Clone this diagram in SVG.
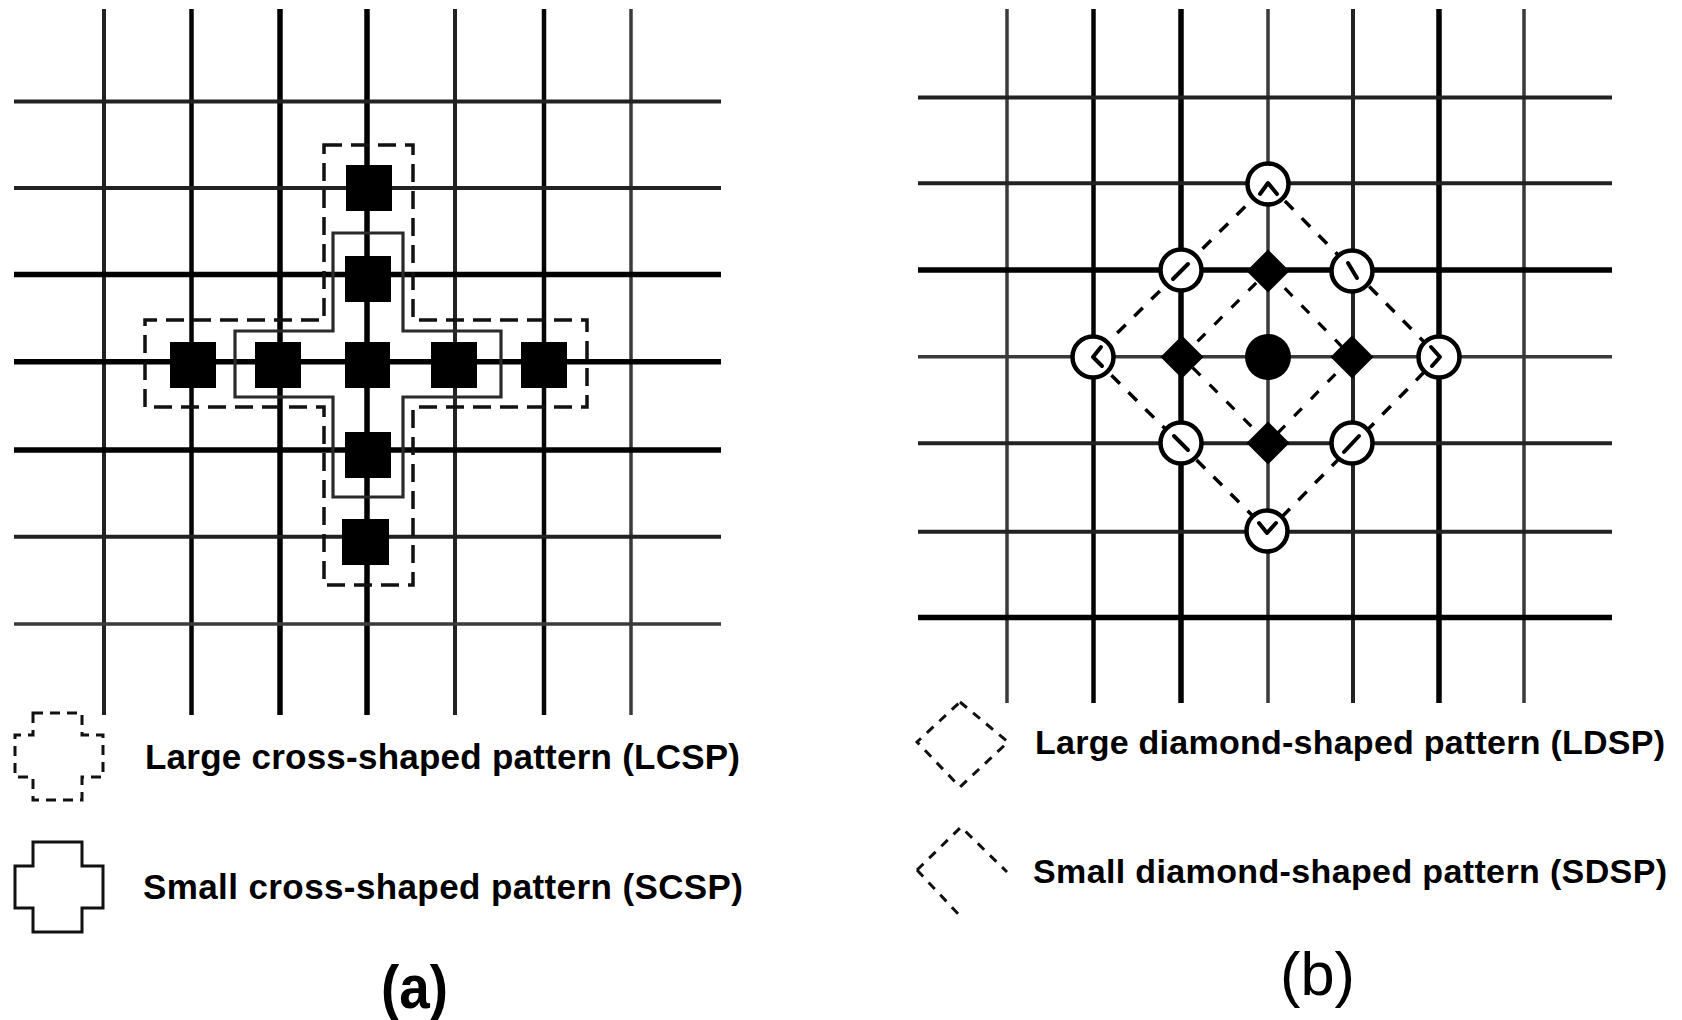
<svg xmlns="http://www.w3.org/2000/svg" width="1682" height="1020" viewBox="0 0 1682 1020">
  <style>
    .bg { fill: #ffffff; }
    .gl { fill: none; stroke-linecap: butt; }
    .w6 { stroke: #000; stroke-width: 5.5; }
    .w5 { stroke: #050505; stroke-width: 4.5; }
    .w4 { stroke: #222; stroke-width: 4; }
    .w3 { stroke: #3a3a3a; stroke-width: 3.5; }
    .sq { fill: #000; }
    .lcsp { fill: none; stroke: #111; stroke-width: 3.5; stroke-dasharray: 18 9; }
    .scsp { fill: none; stroke: #2a2a2a; stroke-width: 3.2; }
    .ldsp { fill: none; stroke: #000; stroke-width: 3.5; stroke-dasharray: 12 12; }
    .sdsp { fill: none; stroke: #000; stroke-width: 3.2; stroke-dasharray: 11 13; }
    .ring { fill: #fff; stroke: #000; stroke-width: 4.5; }
    .mark { fill: none; stroke: #000; stroke-width: 4; stroke-linecap: round; stroke-linejoin: round; }
    .dot { fill: #000; }
    .ico-dash { fill: none; stroke: #111; stroke-width: 3; stroke-dasharray: 10 7; }
    .ico-solid { fill: none; stroke: #111; stroke-width: 3; }
    .ico-dia { fill: none; stroke: #111; stroke-width: 3; stroke-dasharray: 9 8; }
    .lbl { font-family: "Liberation Sans", Arial, sans-serif; fill: #000; }
    .bold { font-weight: bold; }
  </style>

  <rect class="bg" x="0" y="0" width="1682" height="1020"/>

  <!-- ===== Panel (a): cross-shaped search patterns ===== -->
  <g id="grid-a" class="gl">
    <line class="w4" x1="104" y1="9" x2="104" y2="715"/>
    <line class="w5" x1="191.5" y1="9" x2="191.5" y2="715"/>
    <line class="w6" x1="280" y1="9" x2="280" y2="715"/>
    <line class="w6" x1="367" y1="9" x2="367" y2="715"/>
    <line class="w4" x1="455" y1="9" x2="455" y2="715"/>
    <line class="w5" x1="544" y1="9" x2="544" y2="715"/>
    <line class="w3" x1="631" y1="9" x2="631" y2="715"/>

    <line class="w4" x1="14" y1="101.5" x2="721" y2="101.5"/>
    <line class="w4" x1="14" y1="188" x2="721" y2="188"/>
    <line class="w6" x1="14" y1="274.5" x2="721" y2="274.5"/>
    <line class="w6" x1="14" y1="361.7" x2="721" y2="361.7"/>
    <line class="w6" x1="14" y1="450" x2="721" y2="450"/>
    <line class="w4" x1="14" y1="536.7" x2="721" y2="536.7"/>
    <line class="w3" x1="14" y1="624" x2="721" y2="624"/>
  </g>

  <g id="connectors-a">
    <path id="lcsp-outline" class="lcsp" d="M324,145 H413 V320 H587 V407 H413 V585 H324 V407 H145 V320 H324 Z"/>
    <path id="scsp-outline" class="scsp" d="M333,233 H403 V331 H501 V397 H403 V497 H333 V397 H235 V331 H333 Z"/>
  </g>

  <g id="points-a">
    <g id="pa-n2"><rect class="sq" x="346" y="165" width="46" height="46"/></g>
    <g id="pa-n1"><rect class="sq" x="345" y="256" width="46" height="46"/></g>
    <g id="pa-w2"><rect class="sq" x="170" y="342" width="46" height="46"/></g>
    <g id="pa-w1"><rect class="sq" x="255" y="342" width="46" height="46"/></g>
    <g id="pa-c"><rect class="sq" x="345" y="342" width="45" height="46"/></g>
    <g id="pa-e1"><rect class="sq" x="431" y="342" width="46" height="46"/></g>
    <g id="pa-e2"><rect class="sq" x="521" y="342" width="46" height="46"/></g>
    <g id="pa-s1"><rect class="sq" x="345" y="432" width="46" height="46"/></g>
    <g id="pa-s2"><rect class="sq" x="342" y="519" width="47" height="46"/></g>
  </g>

  <g id="legend-a">
    <g id="legend-lcsp">
      <path class="ico-dash" d="M33,713 H82 V735 H103 V777 H82 V800 H33 V777 H15 V735 H33 Z"/>
      <text class="lbl bold" x="145" y="769" font-size="35" textLength="595" lengthAdjust="spacing">Large cross-shaped pattern (LCSP)</text>
    </g>
    <g id="legend-scsp">
      <path class="ico-solid" d="M33,842 H82 V866 H103 V908 H82 V932 H33 V908 H15 V866 H33 Z"/>
      <text class="lbl bold" x="143" y="899" font-size="35" textLength="600" lengthAdjust="spacing">Small cross-shaped pattern (SCSP)</text>
    </g>
    <text id="caption-a" class="lbl bold" x="381" y="1008" font-size="62" textLength="67" lengthAdjust="spacingAndGlyphs">(a)</text>
  </g>

  <!-- ===== Panel (b): diamond-shaped search patterns ===== -->
  <g id="grid-b" class="gl">
    <line class="w3" x1="1007" y1="9" x2="1007" y2="703"/>
    <line class="w5" x1="1093.5" y1="9" x2="1093.5" y2="703"/>
    <line class="w6" x1="1181" y1="9" x2="1181" y2="703"/>
    <line class="w3" x1="1268" y1="9" x2="1268" y2="703"/>
    <line class="w4" x1="1353" y1="9" x2="1353" y2="703"/>
    <line class="w6" x1="1439" y1="9" x2="1439" y2="703"/>
    <line class="w3" x1="1524" y1="9" x2="1524" y2="703"/>

    <line class="w4" x1="918" y1="97.4" x2="1612" y2="97.4"/>
    <line class="w4" x1="918" y1="183.3" x2="1612" y2="183.3"/>
    <line class="w6" x1="918" y1="270" x2="1612" y2="270"/>
    <line class="w3" x1="918" y1="356.7" x2="1612" y2="356.7"/>
    <line class="w4" x1="918" y1="443.3" x2="1612" y2="443.3"/>
    <line class="w4" x1="918" y1="531.7" x2="1612" y2="531.7"/>
    <line class="w6" x1="918" y1="617.6" x2="1612" y2="617.6"/>
  </g>

  <g id="connectors-b">
    <path id="ldsp-outline" class="ldsp" d="M1268,184 L1439,357 L1268,531 L1093,357 Z"/>
    <path id="sdsp-outline" class="sdsp" d="M1268,271 L1352,357 L1268,443 L1182,357 Z"/>
  </g>

  <g id="points-b">
    <g id="pb-n2">
      <circle class="ring" cx="1268" cy="184" r="20.5"/>
      <path class="mark" d="M1260,194 L1268,183 L1277,194"/>
    </g>
    <g id="pb-nw">
      <circle class="ring" cx="1181" cy="270" r="20.5"/>
      <path class="mark" d="M1173,279 L1188,264"/>
    </g>
    <g id="pb-ne">
      <circle class="ring" cx="1352" cy="271" r="20.5"/>
      <path class="mark" d="M1348,263 L1357,278"/>
    </g>
    <g id="pb-w2">
      <circle class="ring" cx="1093" cy="357" r="20.5"/>
      <path class="mark" d="M1101,347 L1093,357 L1102,366"/>
    </g>
    <g id="pb-e2">
      <circle class="ring" cx="1439" cy="357" r="20.5"/>
      <path class="mark" d="M1431,347 L1440,357 L1432,366"/>
    </g>
    <g id="pb-sw">
      <circle class="ring" cx="1181" cy="443" r="20.5"/>
      <path class="mark" d="M1174,436 L1188,450"/>
    </g>
    <g id="pb-se">
      <circle class="ring" cx="1352" cy="443" r="20.5"/>
      <path class="mark" d="M1344,452 L1359,436"/>
    </g>
    <g id="pb-s2">
      <circle class="ring" cx="1267" cy="531" r="20.5"/>
      <path class="mark" d="M1259,523 L1267,533 L1276,523"/>
    </g>
    <g id="pb-n1"><path class="dot" d="M1268,249.5 L1289.5,271 L1268,292.5 L1246.5,271 Z"/></g>
    <g id="pb-w1"><path class="dot" d="M1182,335.5 L1203.5,357 L1182,378.5 L1160.5,357 Z"/></g>
    <g id="pb-e1"><path class="dot" d="M1352,335.5 L1373.5,357 L1352,378.5 L1330.5,357 Z"/></g>
    <g id="pb-s1"><path class="dot" d="M1268,421.5 L1289.5,443 L1268,464.5 L1246.5,443 Z"/></g>
    <g id="pb-c"><circle class="dot" cx="1268" cy="357" r="23"/></g>
  </g>

  <g id="legend-b">
    <g id="legend-ldsp">
      <path class="ico-dia" d="M960,702 L1008,742 L960,787 L917,742 Z"/>
      <text class="lbl bold" x="1035" y="754" font-size="34" textLength="630" lengthAdjust="spacing">Large diamond-shaped pattern (LDSP)</text>
    </g>
    <g id="legend-sdsp">
      <path class="ico-dia" d="M917,870 L961,827 L1007,872 M917,870 L961,917"/>
      <text class="lbl bold" x="1033" y="883" font-size="34" textLength="634" lengthAdjust="spacing">Small diamond-shaped pattern (SDSP)</text>
    </g>
    <text id="caption-b" class="lbl" x="1280" y="995" font-size="62" textLength="75" lengthAdjust="spacingAndGlyphs">(b)</text>
  </g>
</svg>
